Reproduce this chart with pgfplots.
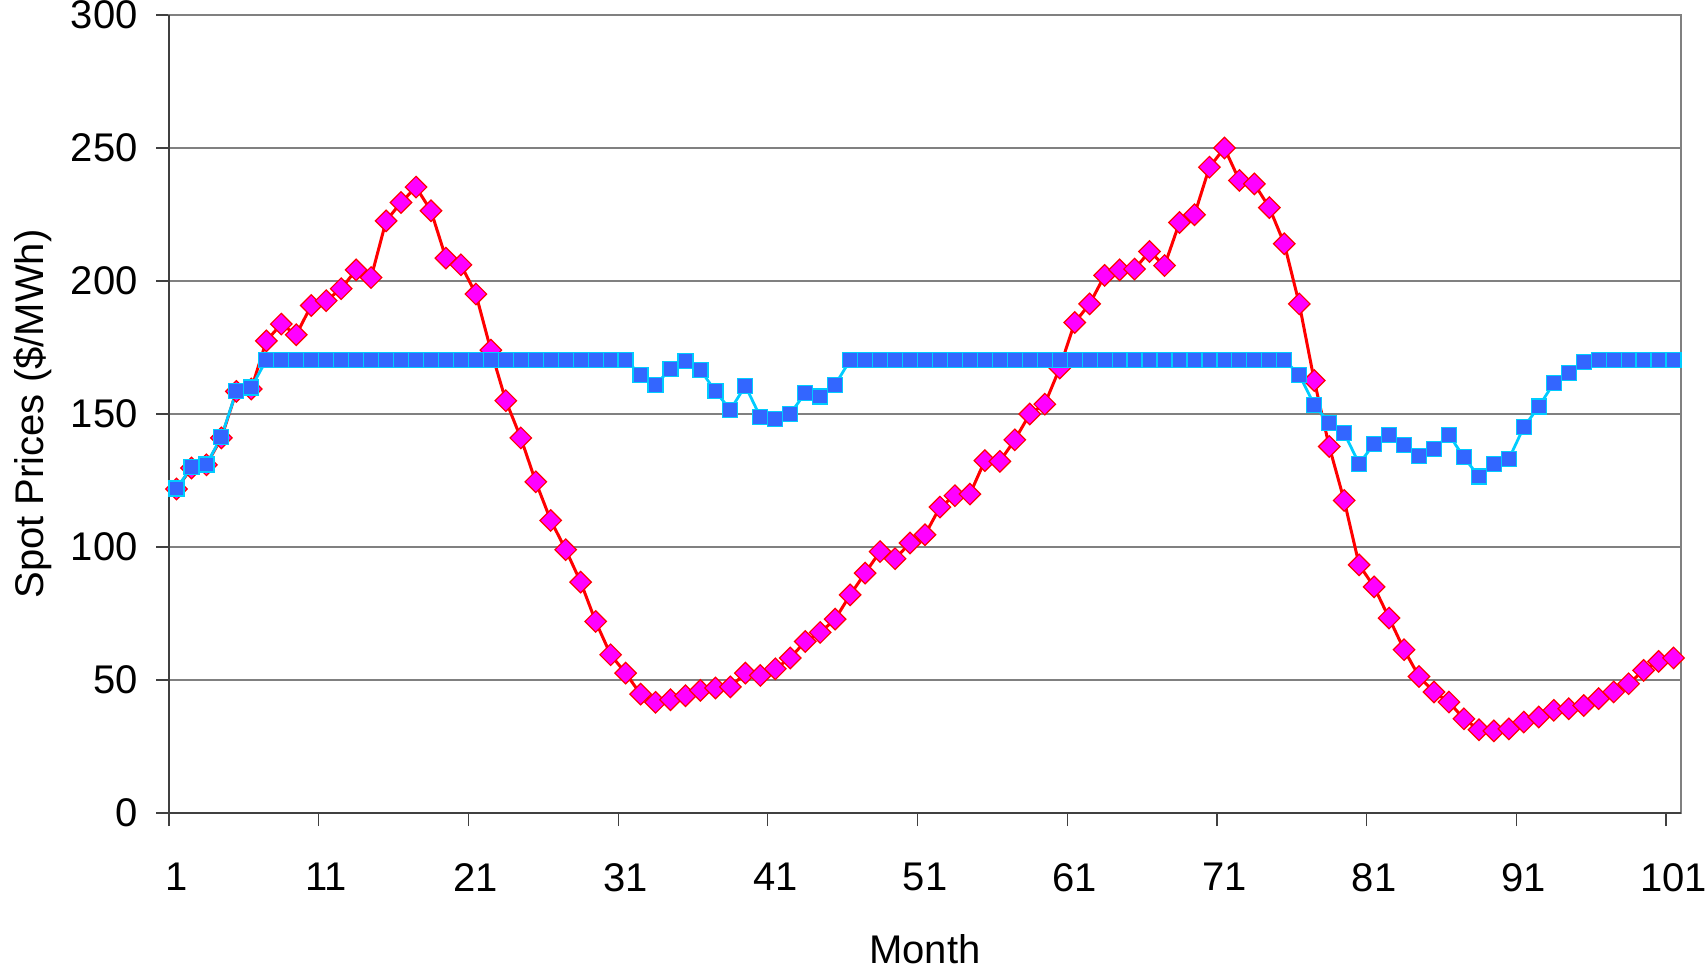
\documentclass[border=0pt]{standalone}
\usepackage{pgfplots}
\pgfplotsset{compat=1.18}
\usepackage{pgfplotstable}
\usepackage{fontspec}
\setmainfont{Liberation Sans}
\definecolor{sqfill}{HTML}{3366FF}
\definecolor{sqline}{HTML}{00CCFF}
\definecolor{dmfill}{HTML}{FF00FF}
\definecolor{dmline}{HTML}{FF0000}
\definecolor{gridgray}{HTML}{808080}
\definecolor{axisdark}{HTML}{404040}

\pgfplotstableread{
x red blue
1 121.8 122
2 129.7 130
3 130.9 131
4 141 141.5
5 158.5 158.5
6 159.4 160
7 177.5 170.3
8 183.8 170.3
9 179.8 170.3
10 190.8 170.3
11 192.6 170.3
12 197.1 170.3
13 204.2 170.3
14 201.3 170.3
15 222.6 170.3
16 229.5 170.3
17 235.3 170.3
18 226.4 170.3
19 208.6 170.3
20 206.1 170.3
21 195.1 170.3
22 174 170.3
23 155 170.3
24 141 170.3
25 124.5 170.3
26 110 170.3
27 99 170.3
28 86.8 170.3
29 72 170.3
30 59.5 170.3
31 52.6 170.3
32 44.7 164.8
33 41.6 161
34 42.6 166.9
35 44.1 169.8
36 46.1 166.6
37 47 158.5
38 47.4 151.6
39 52.6 160.6
40 51.7 148.9
41 54.2 148.2
42 58.3 150.1
43 64.5 157.9
44 67.9 156.6
45 72.9 161
46 82 170.3
47 90.2 170.3
48 98.3 170.3
49 95.6 170.3
50 101.5 170.3
51 104.6 170.3
52 115 170.3
53 119.3 170.3
54 119.9 170.3
55 132.5 170.3
56 132.2 170.3
57 140.3 170.3
58 150 170.3
59 153.7 170.3
60 167.3 170.3
61 184.4 170.3
62 191.4 170.3
63 202.1 170.3
64 204.2 170.3
65 204.5 170.3
66 211.1 170.3
67 205.8 170.3
68 222 170.3
69 224.9 170.3
70 242.8 170.3
71 250 170.3
72 237.8 170.3
73 236.5 170.3
74 227.6 170.3
75 214 170.3
76 191.4 164.8
77 162.6 153.5
78 137.8 146.6
79 117.5 142.8
80 93.3 131.3
81 85 138.8
82 73.3 142.2
83 61.4 138.2
84 51.3 134.3
85 45.5 136.9
86 41.7 142.2
87 35.4 133.7
88 31.3 126.5
89 30.9 131.2
90 31.6 133.1
91 34.2 145.1
92 36.1 152.8
93 38.6 161.6
94 39.2 165.4
95 40.4 169.5
96 43 170.3
97 45.5 170.3
98 48.6 170.3
99 53.6 170.3
100 57 170.3
101 58.3 170.3
}\datatable

\begin{document}
\begin{tikzpicture}
\path[use as bounding box] (-84.5pt,-78.5pt) rectangle (768.5pt,406.5pt);
\begin{axis}[
  at={(0,0)}, anchor=south west,
  scale only axis,
  width=756pt, height=399pt,
  xmin=0.5, xmax=101.5,
  ymin=0, ymax=300,
  xtick={1,11,...,101},
  minor xtick={0.5,10.5,...,100.5},
  ytick={0,50,...,300},
  xtick pos=bottom, ytick pos=left,
  tick align=outside,
  major tick length=6.5pt,
  minor tick length=6.5pt,
  major x tick style={draw=none},
  minor x tick style={draw=axisdark, line width=0.6pt},
  major y tick style={draw=axisdark, line width=0.6pt},
  ymajorgrids,
  grid style={draw=gridgray, line width=0.6pt},
  axis line style={draw=gridgray, line width=0.6pt},
  /pgf/number format/assume math mode=true,
  ticklabel style={font=\fontsize{20}{24}\selectfont},
  xticklabel style={anchor=north, inner sep=0pt, yshift=-18.5pt},
  yticklabel style={anchor=east, inner sep=0pt, xshift=-9pt},
  label style={font=\fontsize{20}{24}\selectfont},
  xlabel={Month},
  ylabel={Spot Prices (\$/MWh)},
  xlabel style={at={(axis description cs:0.5,0)}, anchor=center, yshift=-68pt, inner sep=0pt},
  ylabel style={at={(axis description cs:-0.0899,0.5)}, anchor=center, inner sep=0pt},
  clip=false,
]
\addplot[color=dmline, line width=1.5pt, mark=square*,
  mark size=3.8pt,
  mark options={rotate=45, fill=dmfill, draw=dmline, line width=0.6pt, solid}]
  table[x=x, y=red] {\datatable};
\addplot[color=sqline, line width=1.4pt, mark=square*,
  mark size=3.75pt,
  mark options={fill=sqfill, draw=sqline, line width=0.6pt, solid}]
  table[x=x, y=blue] {\datatable};
\draw[axisdark, line width=1pt] (rel axis cs:0,1) -- (rel axis cs:0,0) -- (rel axis cs:1,0);
\end{axis}
\end{tikzpicture}
\end{document}
